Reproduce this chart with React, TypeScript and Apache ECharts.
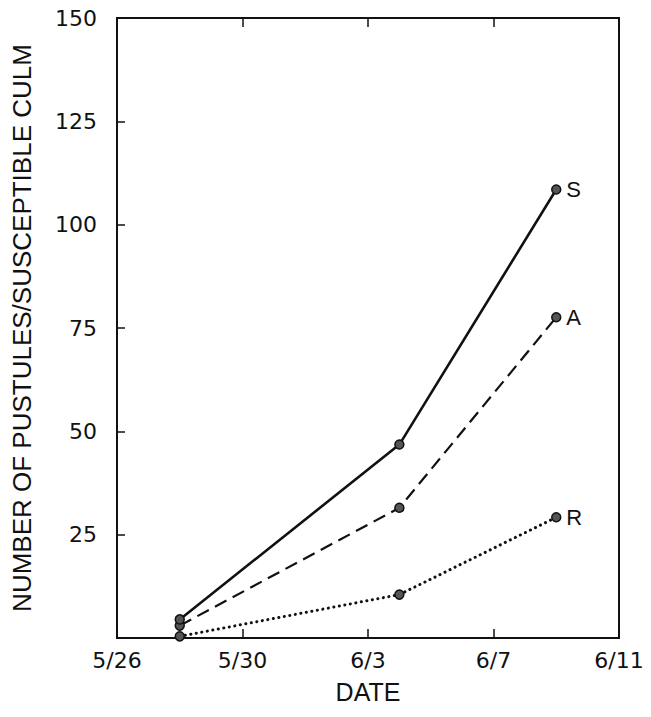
import React, { useEffect, useRef } from "react";
import * as echarts from "echarts";

// Observation dates (days after 5/26)
const obsDates = ["5/28", "6/4", "6/9"];
const obsDays = [2, 9, 14];

// Pustules per susceptible culm
const seriesS = [4.5, 46.8, 108.5];
const seriesA = [3.0, 31.5, 77.6];
const seriesR = [0.4, 10.5, 29.2];

const xTickLabels = ["5/26", "5/30", "6/3", "6/7", "6/11"];
const yTickLabels = ["", "25", "50", "75", "100", "125", "150"];

const FONT = "Liberation Sans, Arial, Helvetica, sans-serif";
const NUMFONT = "DejaVu Sans, Liberation Sans, sans-serif";

export default function App() {
  const ref = useRef<HTMLDivElement>(null);

  useEffect(() => {
    if (!ref.current) return;
    const chart = echarts.init(ref.current, undefined, { renderer: "svg" });
    const pts = (vals: number[]) => vals.map((v, i) => [obsDays[i], v]);
    const sym = {
      symbol: "circle",
      symbolSize: 9,
      itemStyle: { color: "#555", borderColor: "#111", borderWidth: 1.5 },
    };
    const endLabel = (t: string) => ({
      show: true,
      formatter: t,
      color: "#111",
      fontSize: 22,
      fontFamily: FONT,
      distance: 10,
    });
    chart.setOption({
      animation: false,
      backgroundColor: "#fff",
      grid: {
        left: 117,
        right: 32,
        top: 18,
        bottom: 79,
        show: true,
        borderColor: "#111",
        borderWidth: 2,
        containLabel: false,
      },
      xAxis: [
        {
          type: "value",
          min: 0,
          max: 16,
          interval: 4,
          position: "bottom",
          name: "DATE",
          nameLocation: "middle",
          nameGap: 41,
          nameTextStyle: { color: "#111", fontSize: 25, fontFamily: FONT },
          axisLine: { show: false },
          axisTick: { show: true, inside: true, length: 9, lineStyle: { color: "#111", width: 1.5 } },
          splitLine: { show: false },
          axisLabel: {
            color: "#111",
            fontSize: 22,
            fontFamily: NUMFONT,
            margin: 11,
            formatter: (v: number) => xTickLabels[Math.round(v / 4)] ?? "",
          },
        },
        {
          type: "value",
          min: 0,
          max: 16,
          interval: 4,
          position: "top",
          axisLine: { show: false },
          axisTick: { show: true, inside: true, length: 9, lineStyle: { color: "#111", width: 1.5 } },
          splitLine: { show: false },
          axisLabel: { show: false },
        },
      ],
      yAxis: [
        {
          type: "value",
          min: 0,
          max: 150,
          interval: 25,
          name: "NUMBER OF PUSTULES/SUSCEPTIBLE CULM",
          nameLocation: "middle",
          nameGap: 82,
          nameTextStyle: { color: "#111", fontSize: 26, fontFamily: FONT },
          axisLine: { show: false },
          axisTick: { show: true, inside: true, length: 8, lineStyle: { color: "#111", width: 1.5 } },
          splitLine: { show: false },
          axisLabel: {
            color: "#111",
            fontSize: 22,
            fontFamily: NUMFONT,
            margin: 20,
            formatter: (v: number) => yTickLabels[Math.round(v / 25)] ?? "",
          },
        },
      ],
      series: [
        {
          type: "line",
          name: "R",
          data: pts(seriesR),
          ...sym,
          lineStyle: { color: "#111", width: 3, type: [0.1, 5.5], cap: "round" },
          endLabel: endLabel("R"),
        },
        {
          type: "line",
          name: "A",
          data: pts(seriesA),
          ...sym,
          lineStyle: { color: "#111", width: 2.2, type: [13, 7] },
          endLabel: endLabel("A"),
        },
        {
          type: "line",
          name: "S",
          data: pts(seriesS),
          ...sym,
          lineStyle: { color: "#111", width: 2.6, type: "solid" },
          endLabel: endLabel("S"),
        },
      ],
    });
    return () => chart.dispose();
  }, []);

  return <div ref={ref} style={{ width: 651, height: 717, margin: -8 }} />;
}
